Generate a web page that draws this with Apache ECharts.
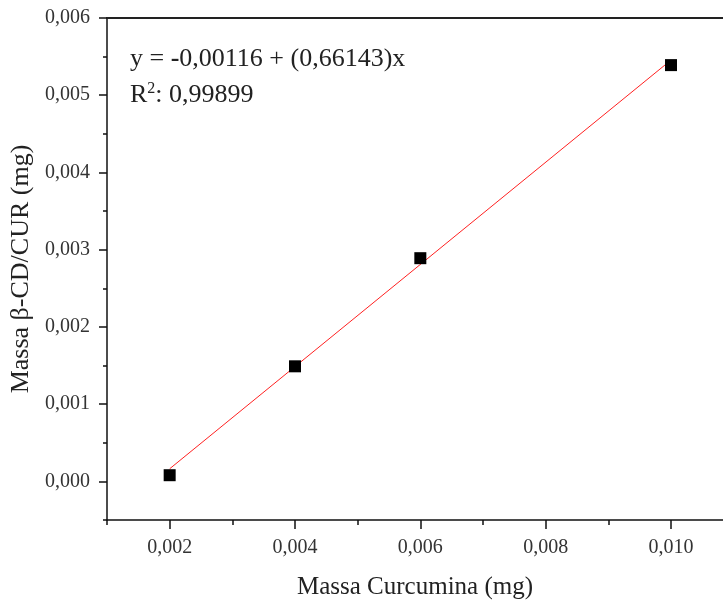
<!DOCTYPE html>
<html>
<head>
<meta charset="utf-8">
<script src="https://cdn.jsdelivr.net/npm/echarts@6/dist/echarts.min.js"></script>
<style>
  html, body { margin: 0; padding: 0; background: #fff; }
  #chart { width: 723px; height: 607px; }
</style>
</head>
<body>
<div id="chart"></div>
<script>
// pontos medidos
var massaCurcumina = [0.002, 0.004, 0.006, 0.010];
var massaComplexo = [0.00008, 0.00149, 0.00289, 0.00539];

// reta de ajuste (extremos)
var fitX = [0.002, 0.010];
var fitY = [0.000163, 0.005455];

var xMajor = [0.002, 0.004, 0.006, 0.008, 0.010];
var xMinor = [0.001, 0.003, 0.005, 0.007, 0.009];
var yMajor = [0.000, 0.001, 0.002, 0.003, 0.004, 0.005, 0.006];
var yMinor = [-0.0005, 0.0005, 0.0015, 0.0025, 0.0035, 0.0045, 0.0055];

var eqText = '-0,00116 + (0,66143)x';
var r2Text = '0,99899';

var FONT = 'Liberation Serif';

function fmt(v) {
	return v.toFixed(3).replace('.', ',');
}

var chart = echarts.init(document.getElementById('chart'));

var pts = massaCurcumina.map(function (x, i) { return [x, massaComplexo[i]]; });
var fit = fitX.map(function (x, i) { return [x, fitY[i]]; });

// o grafico original esta cortado a direita
var baseX = {
	type: 'value', min: 0.001, max: 0.01083, position: 'bottom',
	splitLine: { show: false }
};
var baseY = {
	type: 'value', min: -0.0005, max: 0.006, position: 'left',
	splitLine: { show: false }
};
var tickStyle = { color: '#111', width: 1.5 };

chart.setOption({
	animation: false,
	grid: { left: 107, right: 0, top: 18, bottom: 87, outerBoundsMode: 'none', containLabel: false },
	xAxis: [
		Object.assign({}, baseX, {
			name: 'Massa Curcumina (mg)',
			nameLocation: 'middle',
			nameGap: 55,
			nameTextStyle: { fontFamily: FONT, fontSize: 25, color: '#222' },
			axisLine: { onZero: false, lineStyle: { color: '#111', width: 1.5 } },
			axisTick: { customValues: xMajor, length: 9, lineStyle: tickStyle },
			axisLabel: {
				customValues: xMajor, margin: 18,
				fontFamily: FONT, fontSize: 20, color: '#333',
				formatter: fmt
			}
		}),
		Object.assign({}, baseX, {
			axisLine: { show: false, onZero: false },
			axisTick: { customValues: xMinor, length: 5, lineStyle: tickStyle },
			axisLabel: { show: false }
		}),
		Object.assign({}, baseX, {
			position: 'top',
			axisLine: { onZero: false, lineStyle: { color: '#222', width: 2 } },
			axisTick: { show: false },
			axisLabel: { show: false }
		})
	],
	yAxis: [
		Object.assign({}, baseY, {
			name: 'Massa β-CD/CUR (mg)',
			nameLocation: 'middle',
			nameGap: 64,
			nameTextStyle: { fontFamily: FONT, fontSize: 26, color: '#222' },
			axisLine: { onZero: false, lineStyle: { color: '#111', width: 1.5 } },
			axisTick: { customValues: yMajor, length: 8, lineStyle: tickStyle },
			axisLabel: {
				customValues: yMajor, margin: 17,
				fontFamily: FONT, fontSize: 20, color: '#333',
				formatter: fmt
			}
		}),
		Object.assign({}, baseY, {
			axisLine: { show: false, onZero: false },
			axisTick: { customValues: yMinor, length: 4, lineStyle: tickStyle },
			axisLabel: { show: false }
		})
	],
	series: [
		{
			type: 'line',
			data: fit,
			showSymbol: false,
			symbol: 'none',
			lineStyle: { color: '#ff2020', width: 1 },
			z: 2
		},
		{
			type: 'scatter',
			data: pts,
			symbol: 'rect',
			symbolSize: 12,
			itemStyle: { color: '#000', opacity: 1 },
			z: 3
		}
	],
	graphic: [
		{
			type: 'text', left: 130, top: 46,
			style: {
				text: '{n|y = }{b|-}{n|' + eqText.slice(1) + '}',
				rich: {
					n: { fontFamily: FONT, fontSize: 26, fill: '#222' },
					b: { fontFamily: FONT, fontSize: 26, fontWeight: 'bold', fill: '#222' }
				}
			}
		},
		{
			type: 'text', left: 130, top: 81,
			style: {
				text: '{n|R}{s|2}{n|: ' + r2Text + '}',
				rich: {
					n: { fontFamily: FONT, fontSize: 26, fill: '#222' },
					s: { fontFamily: FONT, fontSize: 16, fill: '#222', verticalAlign: 'top', padding: [0, 0, 12, 0] }
				}
			}
		}
	]
});
</script>
</body>
</html>
